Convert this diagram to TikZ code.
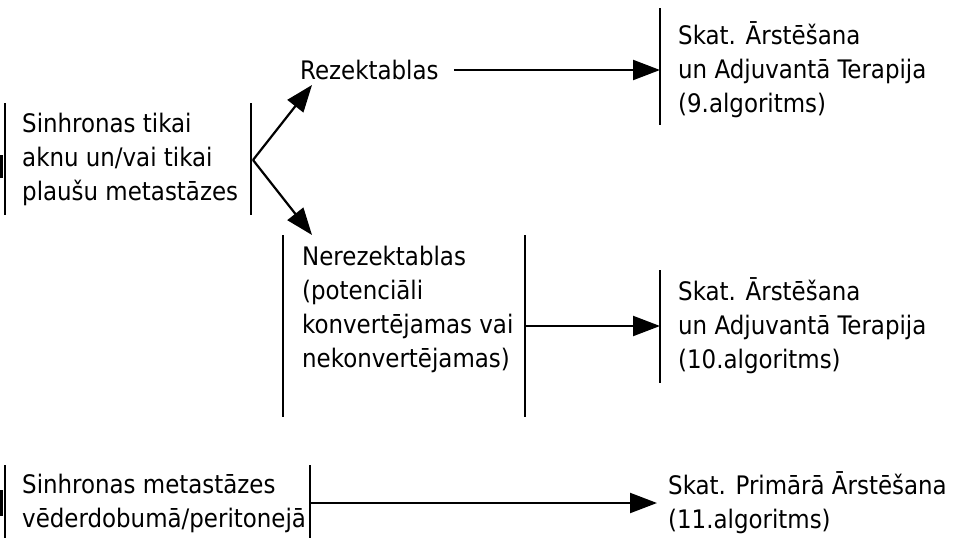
\documentclass[tikz,border=0pt]{standalone}
\usepackage{fontspec}
\setmainfont{DejaVu Sans Condensed}
\usetikzlibrary{arrows.meta}

\begin{document}
\begin{tikzpicture}[
  x=1pt, y=-1pt,
  lbl/.style={anchor=west, align=left, inner sep=0pt, font=\fontsize{25.5}{34}\selectfont},
  brk/.style={line width=1.5pt},
  stub/.style={line width=3.5pt},
  edg/.style={-{Triangle[length=27pt, width=20pt]}, line width=2.2pt}
]
\useasboundingbox (0,0) rectangle (960,538);
% bracket ends and arrow ends
\coordinate (b1t) at (5,103);   \coordinate (b1b) at (5,215);
\coordinate (b2t) at (251,103); \coordinate (b2b) at (251,215);
\coordinate (vtx) at (253,160);
\coordinate (rezin) at (312,85);
\coordinate (nerin) at (312,235);
\coordinate (r9t) at (660,8);   \coordinate (r9b) at (660,125);
\coordinate (n1t) at (283,235); \coordinate (n1b) at (283,417);
\coordinate (n2t) at (525,235); \coordinate (n2b) at (525,417);
\coordinate (n2m) at (525,326);
\coordinate (r10t) at (660,270); \coordinate (r10b) at (660,383);
\coordinate (r10m) at (660,326);
\coordinate (p1t) at (5,465);   \coordinate (p1b) at (5,538);
\coordinate (p2t) at (310,465); \coordinate (p2b) at (310,538);
\coordinate (p2m) at (310,503);
\coordinate (r11m) at (657,503);
% texts
\node[lbl] (sync) at (22,159) {Sinhronas tikai\\aknu un/vai tikai\\plaušu metastāzes};
\node[lbl] (rez) at (300,70) {Rezektablas};
\node[lbl] (res9) at (678,70) {Skat. Ārstēšana\\un Adjuvantā Terapija\\(9.algoritms)};
\node[lbl] (nerez) at (302,309) {Nerezektablas\\(potenciāli\\konvertējamas vai\\nekonvertējamas)};
\node[lbl] (res10) at (678,326) {Skat. Ārstēšana\\un Adjuvantā Terapija\\(10.algoritms)};
\node[lbl] (perit) at (22,503) {Sinhronas metastāzes\\vēderdobumā/peritonejā};
\node[lbl] (res11) at (668,503) {Skat. Primārā Ārstēšana\\(11.algoritms)};
% brackets
\draw[brk] (b1t) -- (b1b);
\draw[stub] (1.7,155) -- (1.7,178);
\draw[brk] (b2t) -- (b2b);
\draw[brk] (r9t) -- (r9b);
\draw[brk] (n1t) -- (n1b);
\draw[brk] (n2t) -- (n2b);
\draw[brk] (r10t) -- (r10b);
\draw[brk] (p1t) -- (p1b);
\draw[stub] (1.7,490) -- (1.7,516);
\draw[brk] (p2t) -- (p2b);
% arrows
\draw[edg] (vtx) -- (rezin);
\draw[edg] (vtx) -- (nerin);
\draw[edg] ([xshift=15pt]rez.east) -- (r9t |- rez.east);
\draw[edg] (n2m) -- (r10m);
\draw[edg] (p2m) -- (r11m);
\end{tikzpicture}
\end{document}
